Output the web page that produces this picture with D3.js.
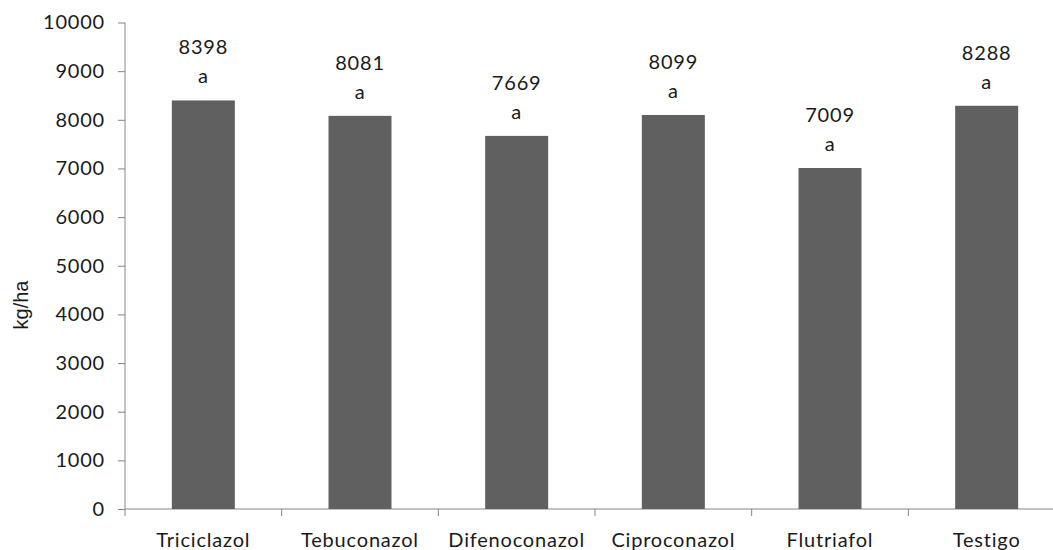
<!DOCTYPE html>
<html><head><meta charset="utf-8">
<script src="https://cdn.jsdelivr.net/npm/d3@7"></script>
<style>body{margin:0;background:#fff;overflow:hidden}svg{display:block}</style>
</head><body>
<script>
const categories = ["Triciclazol","Tebuconazol","Difenoconazol","Ciproconazol","Flutriafol","Testigo"];
const values = [8398, 8081, 7669, 8099, 7009, 8288];
const letters = ["a","a","a","a","a","a"];
const yTicks = [0,1000,2000,3000,4000,5000,6000,7000,8000,9000,10000];
const yLabel = "kg/ha";

const W = 1053, H = 550;
const svg = d3.select("body").append("svg").attr("width", W).attr("height", H);
const font = "Lato, 'Open Sans', sans-serif";
const fs = 20, ls = "0.8px", tc = "#1a1a1a";
const x = d3.scaleBand().domain(categories).range([125, 1065]).paddingInner(0).paddingOuter(0);
const y = d3.scaleLinear().domain([0, 10000]).range([509, 22.5]);
const barW = 63;

function styleText(sel) {
  return sel.attr("font-family", font).attr("font-size", fs).attr("letter-spacing", ls).attr("fill", tc);
}

// y axis
const ya = svg.append("g").attr("transform", "translate(125,0)")
  .call(d3.axisLeft(y).tickValues(yTicks).tickSize(7).tickPadding(13).tickFormat(d3.format("d")));
ya.select(".domain").attr("stroke", "#868686").attr("d", "M0," + y(10000) + "V" + y(0));
ya.selectAll(".tick line").attr("stroke", "#868686");
styleText(ya.selectAll(".tick text"));

// x axis
const xa = svg.append("g").attr("transform", "translate(0,509)");
xa.append("line").attr("x1", 125).attr("x2", 1065).attr("stroke", "#868686");
const bounds = categories.map(c => x(c)).concat([x(categories[categories.length-1]) + x.bandwidth()]);
xa.selectAll("line.tk").data(bounds).join("line").attr("class","tk")
  .attr("x1", d => d).attr("x2", d => d).attr("y1", 0).attr("y2", 7).attr("stroke", "#868686");
styleText(xa.selectAll("text").data(categories).join("text")
  .attr("x", d => x(d) + x.bandwidth()/2).attr("y", 38)
  .attr("text-anchor", "middle")).text(d => d);

// bars
svg.selectAll("rect.bar").data(values).join("rect").attr("class","bar")
  .attr("x", (d,i) => x(categories[i]) + x.bandwidth()/2 - barW/2)
  .attr("width", barW)
  .attr("y", d => y(d)).attr("height", d => y(0) - y(d))
  .attr("fill", "#606060");

// labels
styleText(svg.selectAll("text.val").data(values).join("text").attr("class","val")
  .attr("x", (d,i) => x(categories[i]) + x.bandwidth()/2)
  .attr("y", d => y(d) - 46)
  .attr("text-anchor","middle")).text(d => d);
styleText(svg.selectAll("text.let").data(values).join("text").attr("class","let")
  .attr("x", (d,i) => x(categories[i]) + x.bandwidth()/2)
  .attr("y", d => y(d) - 17)
  .attr("text-anchor","middle")).text((d,i) => letters[i]);

svg.append("text").attr("transform", "translate(28,305) rotate(-90)")
  .attr("text-anchor","middle").attr("font-family","'Liberation Sans', Arial, sans-serif")
  .attr("font-size", 20).attr("fill", tc).text(yLabel);
</script>
</body></html>
